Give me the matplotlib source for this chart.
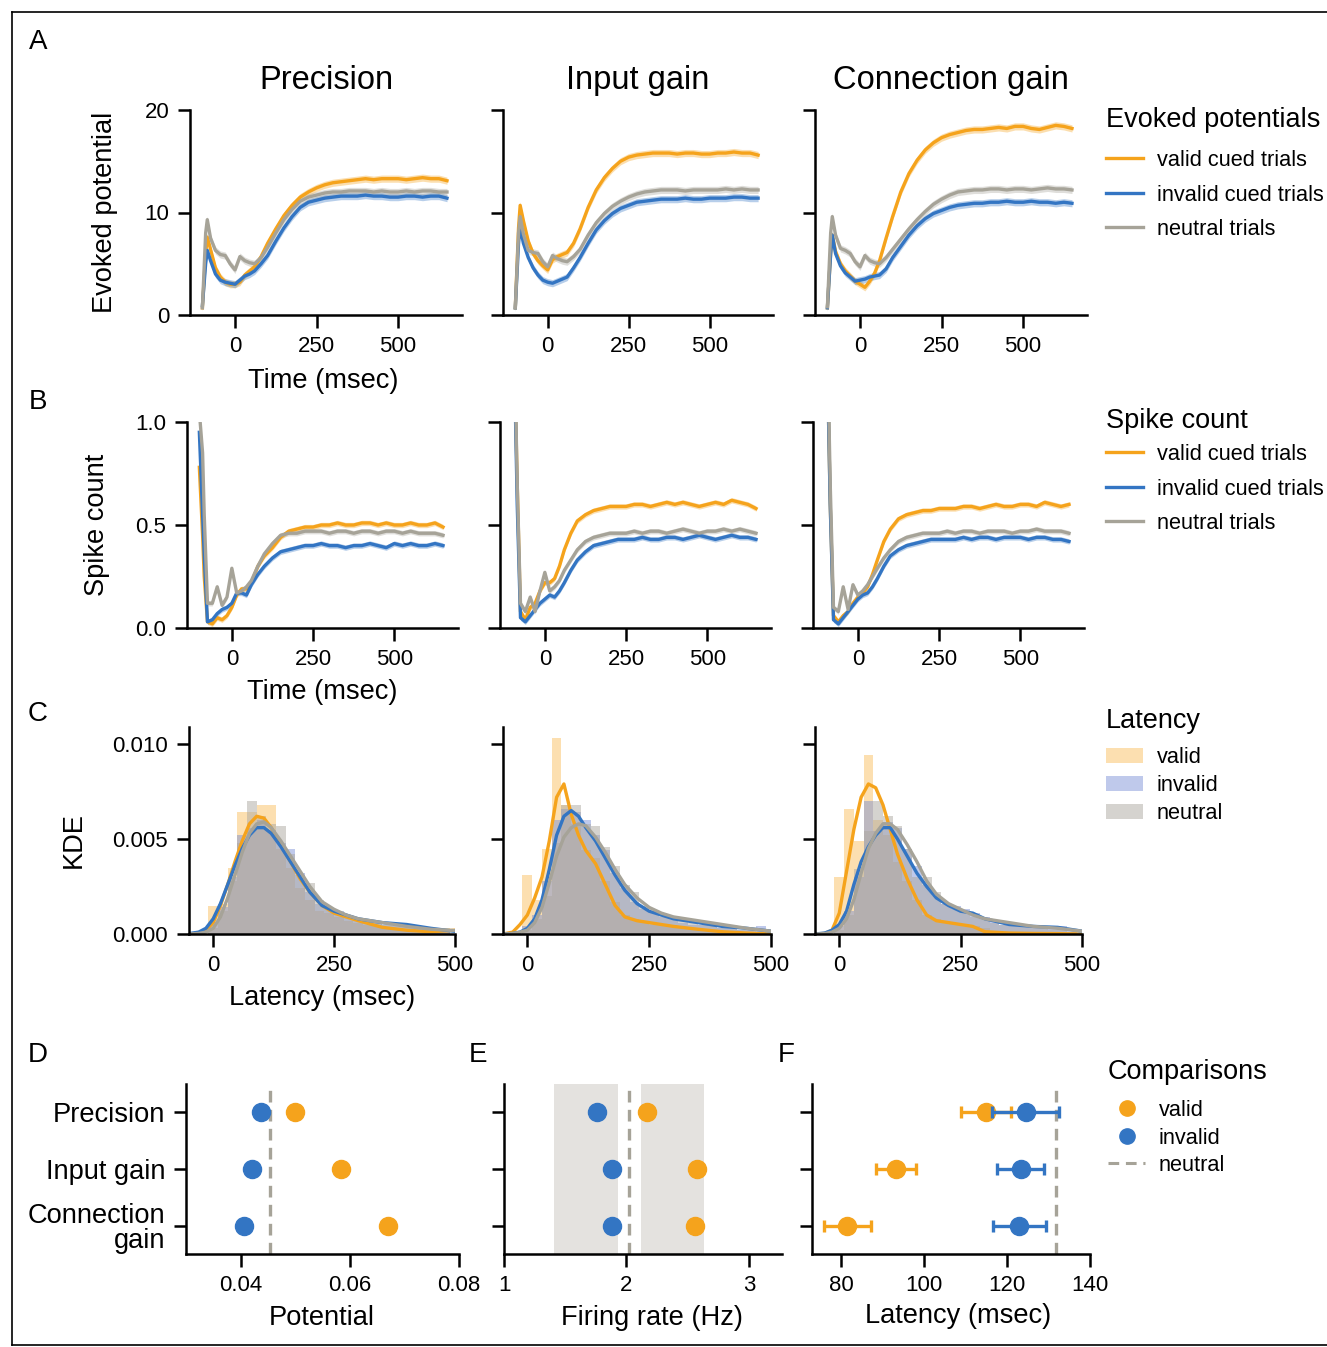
import numpy as np
import matplotlib
matplotlib.use("Agg")
import matplotlib.pyplot as plt
from matplotlib.lines import Line2D
from matplotlib.patches import Patch

plt.rcParams['font.family'] = ['Liberation Sans', 'DejaVu Sans']

W, H = 1327, 1347

# ---------------- data ----------------
models = ['Precision', 'Input gain', 'Connection gain']

# time axis (msec) for evoked potentials and spike counts
t_ms = [-100, -90, -85, -75, -60, -45, -30, -15, 0, 15, 30, 45, 60, 80, 100, 125, 150, 175,
        200, 225, 250, 275, 300, 325, 350, 375, 400, 425, 450, 475, 500, 525, 550, 575, 600, 625, 650]

# evoked potentials
ep_prec_valid = [0.7, 6.0, 7.6, 6.4, 4.6, 3.7, 3.2, 3.0, 3.0, 3.2, 3.9, 4.3, 4.7, 5.7, 7.0, 8.4, 9.7, 10.7,
                 11.5, 12.0, 12.4, 12.7, 12.9, 13.0, 13.1, 13.2, 13.3, 13.2, 13.3, 13.3, 13.3, 13.2, 13.3, 13.4, 13.3, 13.3, 13.1]
ep_prec_invalid = [0.9, 5.0, 6.3, 5.3, 4.0, 3.4, 3.2, 3.1, 3.0, 3.4, 3.8, 4.0, 4.3, 5.0, 5.8, 7.2, 8.5, 9.6,
                   10.5, 11.0, 11.2, 11.4, 11.5, 11.6, 11.6, 11.6, 11.7, 11.6, 11.6, 11.5, 11.5, 11.6, 11.6, 11.5, 11.6, 11.6, 11.4]
ep_prec_neutral = [0.7, 8.0, 9.3, 7.5, 6.3, 5.9, 5.8, 5.0, 4.4, 5.7, 5.3, 5.1, 5.0, 5.6, 6.6, 8.0, 9.3, 10.3,
                   11.1, 11.5, 11.7, 11.9, 12.0, 12.0, 12.1, 12.1, 12.1, 12.0, 12.1, 12.0, 12.0, 12.1, 12.0, 12.1, 12.1, 12.0, 12.0]
ep_input_valid = [0.7, 8.5, 10.7, 9.2, 7.2, 6.0, 5.3, 4.8, 4.4, 5.4, 5.7, 5.9, 6.1, 7.0, 8.4, 10.5, 12.2, 13.4,
                  14.3, 15.0, 15.4, 15.6, 15.7, 15.8, 15.8, 15.8, 15.7, 15.8, 15.8, 15.7, 15.7, 15.8, 15.8, 15.9, 15.8, 15.8, 15.6]
ep_input_invalid = [0.7, 7.0, 8.6, 7.0, 5.6, 4.6, 3.9, 3.4, 3.2, 3.1, 3.3, 3.5, 3.7, 4.6, 5.6, 7.0, 8.3, 9.2,
                    9.9, 10.4, 10.7, 11.0, 11.1, 11.2, 11.3, 11.3, 11.3, 11.4, 11.3, 11.3, 11.4, 11.4, 11.4, 11.5, 11.5, 11.4, 11.4]
ep_input_neutral = [0.7, 8.0, 9.6, 7.9, 6.3, 6.1, 6.0, 5.2, 4.7, 5.8, 5.5, 5.3, 5.2, 5.7, 6.4, 7.8, 9.0, 9.9,
                    10.6, 11.1, 11.5, 11.8, 12.0, 12.1, 12.2, 12.2, 12.2, 12.1, 12.2, 12.2, 12.2, 12.2, 12.3, 12.2, 12.3, 12.2, 12.2]
ep_conn_valid = [0.7, 6.0, 7.8, 6.2, 5.0, 4.3, 3.8, 3.3, 3.0, 2.7, 3.3, 4.1, 5.3, 7.5, 9.6, 12.0, 13.8, 15.1,
                 16.1, 16.8, 17.3, 17.6, 17.8, 18.0, 18.1, 18.1, 18.2, 18.3, 18.2, 18.4, 18.4, 18.2, 18.1, 18.3, 18.5, 18.4, 18.2]
ep_conn_invalid = [0.7, 6.0, 7.8, 6.0, 4.8, 4.1, 3.7, 3.3, 3.4, 3.5, 3.7, 3.8, 3.9, 4.5, 5.6, 6.7, 7.8, 8.7,
                   9.4, 9.9, 10.2, 10.5, 10.7, 10.8, 10.9, 10.9, 11.0, 11.0, 11.1, 11.0, 11.0, 11.1, 11.0, 11.0, 10.9, 11.0, 10.9]
ep_conn_neutral = [0.8, 8.0, 9.6, 7.8, 6.5, 6.3, 6.0, 5.2, 4.7, 5.8, 5.3, 5.1, 5.0, 5.6, 6.4, 7.4, 8.4, 9.3,
                   10.1, 10.8, 11.3, 11.7, 12.0, 12.1, 12.2, 12.2, 12.3, 12.3, 12.2, 12.3, 12.3, 12.2, 12.3, 12.4, 12.3, 12.3, 12.2]
ep_sem = 0.35

# spike counts
sc_prec_valid = [0.78, 0.45, 0.25, 0.03, 0.02, 0.05, 0.04, 0.06, 0.10, 0.16, 0.19, 0.19, 0.22, 0.30, 0.35, 0.39, 0.44, 0.47,
                 0.48, 0.49, 0.49, 0.50, 0.50, 0.51, 0.50, 0.50, 0.51, 0.51, 0.50, 0.51, 0.50, 0.50, 0.51, 0.50, 0.50, 0.51, 0.49]
sc_prec_invalid = [0.95, 0.55, 0.35, 0.03, 0.04, 0.07, 0.09, 0.10, 0.12, 0.17, 0.17, 0.16, 0.21, 0.26, 0.30, 0.34, 0.37, 0.38,
                   0.39, 0.40, 0.40, 0.41, 0.40, 0.40, 0.39, 0.40, 0.40, 0.41, 0.40, 0.39, 0.41, 0.40, 0.41, 0.40, 0.40, 0.41, 0.40]
sc_prec_neutral = [1.05, 0.85, 0.55, 0.12, 0.12, 0.20, 0.11, 0.15, 0.29, 0.17, 0.18, 0.20, 0.23, 0.30, 0.36, 0.41, 0.45, 0.46,
                   0.46, 0.47, 0.47, 0.47, 0.46, 0.47, 0.47, 0.46, 0.47, 0.47, 0.46, 0.47, 0.47, 0.46, 0.47, 0.46, 0.46, 0.46, 0.45]
sc_input_valid = [1.3, 1.05, 0.7, 0.08, 0.04, 0.10, 0.12, 0.18, 0.22, 0.22, 0.24, 0.30, 0.38, 0.46, 0.52, 0.55, 0.57, 0.58,
                  0.59, 0.59, 0.59, 0.60, 0.60, 0.59, 0.60, 0.61, 0.60, 0.61, 0.60, 0.59, 0.60, 0.61, 0.60, 0.62, 0.61, 0.60, 0.58]
sc_input_invalid = [1.3, 1.0, 0.6, 0.05, 0.03, 0.06, 0.09, 0.12, 0.14, 0.16, 0.15, 0.18, 0.22, 0.28, 0.33, 0.37, 0.40, 0.41,
                    0.42, 0.43, 0.43, 0.43, 0.44, 0.43, 0.43, 0.44, 0.44, 0.43, 0.44, 0.45, 0.44, 0.43, 0.44, 0.45, 0.44, 0.44, 0.43]
sc_input_neutral = [1.4, 1.1, 0.7, 0.12, 0.08, 0.15, 0.08, 0.18, 0.27, 0.18, 0.20, 0.23, 0.28, 0.33, 0.38, 0.42, 0.44, 0.45,
                    0.46, 0.46, 0.46, 0.47, 0.46, 0.47, 0.47, 0.46, 0.47, 0.48, 0.47, 0.46, 0.47, 0.47, 0.48, 0.47, 0.48, 0.47, 0.46]
sc_conn_valid = [1.3, 1.0, 0.6, 0.06, 0.03, 0.06, 0.08, 0.12, 0.15, 0.17, 0.20, 0.26, 0.33, 0.42, 0.48, 0.53, 0.55, 0.56,
                 0.57, 0.57, 0.58, 0.58, 0.58, 0.59, 0.59, 0.58, 0.59, 0.60, 0.59, 0.59, 0.60, 0.60, 0.59, 0.61, 0.60, 0.59, 0.60]
sc_conn_invalid = [1.3, 1.0, 0.6, 0.04, 0.02, 0.05, 0.08, 0.11, 0.14, 0.16, 0.17, 0.20, 0.24, 0.30, 0.35, 0.38, 0.40, 0.41,
                   0.42, 0.43, 0.43, 0.43, 0.43, 0.44, 0.43, 0.44, 0.44, 0.43, 0.44, 0.44, 0.44, 0.43, 0.44, 0.44, 0.43, 0.43, 0.42]
sc_conn_neutral = [1.4, 1.1, 0.7, 0.10, 0.08, 0.20, 0.09, 0.21, 0.16, 0.18, 0.21, 0.25, 0.29, 0.34, 0.38, 0.42, 0.44, 0.45,
                   0.46, 0.46, 0.46, 0.47, 0.46, 0.47, 0.47, 0.46, 0.47, 0.47, 0.47, 0.46, 0.47, 0.47, 0.48, 0.47, 0.47, 0.47, 0.46]
sc_sem = 0.013

# latency histograms (bin edges in msec, densities per bin)
lat_edges = [-10, 10, 30, 50, 70, 90, 110, 130, 150, 170, 190, 210, 230, 250, 270, 290, 310, 330,
             350, 370, 390, 410, 430, 450, 470, 490]
hist_prec_valid = [0.0015, 0.0016, 0.0035, 0.0064, 0.0064, 0.0068, 0.0068, 0.0045, 0.0035, 0.0024, 0.0018, 0.0012, 0.0011,
                   0.0009, 0.0007, 0.0006, 0.0005, 0.0004, 0.0003, 0.0003, 0.0002, 0.0002, 0.0001, 0.0001, 0.0003]
hist_prec_invalid = [0.0006, 0.0014, 0.0030, 0.0052, 0.0056, 0.0060, 0.0055, 0.0048, 0.0045, 0.0032, 0.0022, 0.0016, 0.0013,
                     0.0012, 0.0010, 0.0008, 0.0006, 0.0006, 0.0005, 0.0005, 0.0004, 0.0004, 0.0003, 0.0002, 0.0001]
hist_prec_neutral = [0.0003, 0.0012, 0.0028, 0.0048, 0.0070, 0.0062, 0.0058, 0.0057, 0.0042, 0.0031, 0.0027, 0.0018, 0.0013,
                     0.0011, 0.0009, 0.0008, 0.0007, 0.0006, 0.0005, 0.0004, 0.0004, 0.0003, 0.0002, 0.0002, 0.0001]
hist_input_valid = [0.0031, 0.0018, 0.0045, 0.0103, 0.0068, 0.0058, 0.0044, 0.0040, 0.0028, 0.0017, 0.0010, 0.0008, 0.0007,
                    0.0005, 0.0005, 0.0004, 0.0003, 0.0003, 0.0002, 0.0002, 0.0001, 0.0001, 0.0001, 0.0000, 0.0000]
hist_input_invalid = [0.0004, 0.0010, 0.0028, 0.0060, 0.0066, 0.0064, 0.0060, 0.0052, 0.0044, 0.0032, 0.0024, 0.0017, 0.0013,
                      0.0011, 0.0009, 0.0008, 0.0006, 0.0005, 0.0005, 0.0004, 0.0003, 0.0003, 0.0002, 0.0003, 0.0004]
hist_input_neutral = [0.0002, 0.0008, 0.0020, 0.0048, 0.0068, 0.0068, 0.0058, 0.0057, 0.0046, 0.0036, 0.0026, 0.0022, 0.0015,
                      0.0012, 0.0010, 0.0008, 0.0007, 0.0006, 0.0005, 0.0004, 0.0003, 0.0003, 0.0002, 0.0002, 0.0001]
hist_conn_valid = [0.0030, 0.0066, 0.0049, 0.0094, 0.0060, 0.0052, 0.0038, 0.0028, 0.0018, 0.0010, 0.0008, 0.0006, 0.0006,
                   0.0005, 0.0004, 0.0003, 0.0001, 0.0001, 0.0001, 0.0000, 0.0000, 0.0000, 0.0000, 0.0000, 0.0000]
hist_conn_invalid = [0.0004, 0.0012, 0.0030, 0.0070, 0.0054, 0.0059, 0.0056, 0.0045, 0.0036, 0.0026, 0.0020, 0.0016, 0.0015,
                     0.0013, 0.0011, 0.0009, 0.0007, 0.0005, 0.0004, 0.0004, 0.0004, 0.0003, 0.0003, 0.0004, 0.0002]
hist_conn_neutral = [0.0002, 0.0010, 0.0034, 0.0054, 0.0070, 0.0062, 0.0057, 0.0045, 0.0030, 0.0030, 0.0022, 0.0016, 0.0013,
                     0.0011, 0.0009, 0.0008, 0.0006, 0.0005, 0.0005, 0.0004, 0.0003, 0.0003, 0.0002, 0.0002, 0.0001]

# latency KDE curves
kde_ms = [-50, -30, -15, 0, 15, 30, 45, 60, 75, 90, 105, 120, 140, 160, 180, 200, 225, 250, 275, 300, 350, 400, 450, 500]
kde_prec_valid = [0.0, 0.00005, 0.0002, 0.0006, 0.0015, 0.0026, 0.0038, 0.0049, 0.0058, 0.0062, 0.0061, 0.0056, 0.0047,
                  0.0038, 0.0029, 0.0022, 0.0015, 0.0011, 0.0009, 0.0007, 0.00035, 0.0002, 0.00012, 0.0002]
kde_prec_invalid = [0.00002, 0.0001, 0.0003, 0.0008, 0.0016, 0.0026, 0.0036, 0.0045, 0.0052, 0.0056, 0.0056, 0.0053, 0.0046,
                    0.0038, 0.0030, 0.0022, 0.0015, 0.0012, 0.0010, 0.0008, 0.0006, 0.0005, 0.0003, 0.00014]
kde_prec_neutral = [0.0, 0.00003, 0.0001, 0.0003, 0.0009, 0.0019, 0.0031, 0.0043, 0.0053, 0.0058, 0.0059, 0.0056, 0.0049,
                    0.0041, 0.0033, 0.0025, 0.0017, 0.0013, 0.0010, 0.0008, 0.0006, 0.0004, 0.00025, 0.00018]
kde_input_valid = [0.0, 0.0001, 0.0005, 0.0010, 0.0019, 0.0030, 0.0049, 0.0072, 0.0079, 0.0063, 0.0052, 0.0044, 0.0037,
                   0.0026, 0.0015, 0.0009, 0.0007, 0.0006, 0.0005, 0.0004, 0.00025, 0.00012, 0.00005, 0.0]
kde_input_invalid = [0.0, 0.00003, 0.0001, 0.0003, 0.0008, 0.0018, 0.0034, 0.0052, 0.0062, 0.0065, 0.0062, 0.0056, 0.0049,
                     0.0040, 0.0031, 0.0023, 0.0016, 0.0012, 0.0010, 0.0008, 0.0006, 0.0004, 0.0003, 0.00015]
kde_input_neutral = [0.0, 0.00002, 0.0001, 0.0002, 0.0006, 0.0014, 0.0027, 0.0041, 0.0051, 0.0056, 0.0058, 0.0057, 0.0051,
                     0.0043, 0.0034, 0.0026, 0.0019, 0.0014, 0.0011, 0.0009, 0.0007, 0.0005, 0.0003, 0.00015]
kde_conn_valid = [0.0, 0.00003, 0.0002, 0.0011, 0.0033, 0.0055, 0.0072, 0.0079, 0.0077, 0.0068, 0.0055, 0.0042, 0.0029,
                  0.0018, 0.0010, 0.0007, 0.0006, 0.0005, 0.0004, 0.00012, 0.00005, 0.00003, 0.00002, 0.0]
kde_conn_invalid = [0.0, 0.00005, 0.0002, 0.0005, 0.0012, 0.0026, 0.0038, 0.0046, 0.0052, 0.0056, 0.0056, 0.0050, 0.0041,
                    0.0032, 0.0025, 0.0019, 0.0015, 0.0012, 0.0011, 0.0008, 0.0005, 0.0004, 0.00035, 0.00015]
kde_conn_neutral = [0.0, 0.00002, 0.0001, 0.0003, 0.0008, 0.0018, 0.0032, 0.0045, 0.0053, 0.0058, 0.0058, 0.0055, 0.0047,
                    0.0038, 0.0028, 0.0021, 0.0016, 0.0013, 0.0010, 0.0008, 0.0006, 0.0004, 0.0003, 0.00015]

# comparisons (rows: Precision, Input gain, Connection gain)
cmp_labels = ['Precision', 'Input gain', 'Connection\ngain']
pot_valid = [0.0500, 0.0583, 0.0670]
pot_valid_err = [0.0007, 0.0007, 0.0008]
pot_invalid = [0.0438, 0.0420, 0.0407]
pot_invalid_err = [0.0003, 0.0003, 0.0003]
pot_neutral = 0.0453

rate_valid = [2.17, 2.58, 2.56]
rate_valid_err = [0.02, 0.02, 0.03]
rate_invalid = [1.76, 1.88, 1.88]
rate_invalid_err = [0.02, 0.02, 0.02]
rate_neutral = 2.02
rate_spans = [(1.41, 1.93), (2.12, 2.63)]

lat_valid = [115.0, 93.3, 81.5]
lat_valid_err = [6.0, 4.8, 5.7]
lat_invalid = [124.5, 123.3, 123.0]
lat_invalid_err = [8.0, 5.6, 6.3]
lat_neutral = 131.7

# ---------------- style ----------------
ORANGE = '#F5A31C'
BLUE = '#3375C3'
GREY = '#A6A398'
H_ORANGE = '#F9B850'
H_BLUE = '#7189D3'
H_GREY = '#ACA8A1'
line_cols = [ORANGE, BLUE, GREY]
hist_cols = [H_ORANGE, H_BLUE, H_GREY]
hist_alpha = [0.45, 0.45, 0.5]

TICK_FS = 16
LABEL_FS = 19.6
TITLE_FS = 23.5
LEG_FS = 15.7
LEG_TITLE_FS = 19.5

fig = plt.figure(figsize=(W / 100, H / 100), dpi=100)


def box(l, t, r, b):
    return [l / W, 1 - b / H, (r - l) / W, (b - t) / H]


def style(ax):
    for s in ['top', 'right']:
        ax.spines[s].set_visible(False)
    for s in ['left', 'bottom']:
        ax.spines[s].set_linewidth(1.8)
    ax.tick_params(width=1.8, length=9, pad=6, labelsize=TICK_FS)


def ftext(x, y, s, **kw):
    fig.text(x / W, 1 - y / H, s, **kw)


ep_sets = [[ep_prec_valid, ep_prec_invalid, ep_prec_neutral],
           [ep_input_valid, ep_input_invalid, ep_input_neutral],
           [ep_conn_valid, ep_conn_invalid, ep_conn_neutral]]
sc_sets = [[sc_prec_valid, sc_prec_invalid, sc_prec_neutral],
           [sc_input_valid, sc_input_invalid, sc_input_neutral],
           [sc_conn_valid, sc_conn_invalid, sc_conn_neutral]]
hist_sets = [[hist_prec_valid, hist_prec_invalid, hist_prec_neutral],
             [hist_input_valid, hist_input_invalid, hist_input_neutral],
             [hist_conn_valid, hist_conn_invalid, hist_conn_neutral]]
kde_sets = [[kde_prec_valid, kde_prec_invalid, kde_prec_neutral],
            [kde_input_valid, kde_input_invalid, kde_input_neutral],
            [kde_conn_valid, kde_conn_invalid, kde_conn_neutral]]

boxes_a = [(190, 110, 462, 315), (503, 110, 773, 315), (815, 110, 1087, 315)]
boxes_b = [(187, 422, 458, 628), (500, 422, 771, 628), (813, 422, 1084, 628)]
boxes_c = [(189, 727, 455, 934), (503, 727, 771, 934), (815, 727, 1082, 934)]

t = np.array(t_ms)

# ---- row A: evoked potentials
for i, bx in enumerate(boxes_a):
    ax = fig.add_axes(box(*bx))
    style(ax)
    for vals, c in zip(ep_sets[i], line_cols):
        v = np.array(vals)
        ax.fill_between(t, v - ep_sem, v + ep_sem, color=c, alpha=0.35, lw=0)
        ax.plot(t, v, color=c, lw=2.4)
    ax.set_xlim(-138, 696)
    ax.set_ylim(0, 20)
    ax.set_xticks([0, 250, 500])
    ax.set_yticks([0, 10, 20])
    if i > 0:
        ax.set_yticklabels([])
    ax.set_title(models[i], fontsize=TITLE_FS, pad=15)
    if i == 0:
        ax.set_ylabel('Evoked potential', fontsize=LABEL_FS)
        ax.yaxis.set_label_coords((118 - bx[0]) / (bx[2] - bx[0]), 0.5)
        ax.set_xlabel('Time (msec)', fontsize=LABEL_FS, va='center')
        ax.xaxis.set_label_coords(0.49, (bx[3] - 381) / (bx[3] - bx[1]))

# ---- row B: spike counts
for i, bx in enumerate(boxes_b):
    ax = fig.add_axes(box(*bx))
    style(ax)
    for vals, c in zip(sc_sets[i], line_cols):
        v = np.array(vals)
        ax.fill_between(t, v - sc_sem, v + sc_sem, color=c, alpha=0.35, lw=0)
        ax.plot(t, v, color=c, lw=2.4)
    ax.set_xlim(-138, 696)
    ax.set_ylim(0, 1)
    ax.set_xticks([0, 250, 500])
    ax.set_yticks([0, 0.5, 1.0])
    if i > 0:
        ax.set_yticklabels([])
    else:
        ax.set_yticklabels(['0.0', '0.5', '1.0'])
        ax.set_ylabel('Spike count', fontsize=LABEL_FS)
        ax.yaxis.set_label_coords((110 - bx[0]) / (bx[2] - bx[0]), 0.5)
        ax.set_xlabel('Time (msec)', fontsize=LABEL_FS, va='center')
        ax.xaxis.set_label_coords(0.5, (bx[3] - 692) / (bx[3] - bx[1]))

# ---- row C: latency distributions
for i, bx in enumerate(boxes_c):
    ax = fig.add_axes(box(*bx))
    style(ax)
    for vals, c, a in zip(hist_sets[i], hist_cols, hist_alpha):
        ax.stairs(vals, lat_edges, fill=True, color=c, alpha=a, lw=0)
    for vals, c in zip(kde_sets[i], line_cols):
        ax.plot(kde_ms, vals, color=c, lw=2.4)
    ax.set_xlim(-50, 500)
    ax.set_ylim(0, 0.0109)
    ax.set_xticks([0, 250, 500])
    ax.set_yticks([0, 0.005, 0.010])
    if i > 0:
        ax.set_yticklabels([])
    else:
        ax.set_yticklabels(['0.000', '0.005', '0.010'])
        ax.set_ylabel('KDE', fontsize=LABEL_FS)
        ax.yaxis.set_label_coords((87 - bx[0]) / (bx[2] - bx[0]), (bx[3] - 840) / (bx[3] - bx[1]))
        ax.set_xlabel('Latency (msec)', fontsize=LABEL_FS, va='center')
        ax.xaxis.set_label_coords((322 - bx[0]) / (bx[2] - bx[0]), (bx[3] - 998) / (bx[3] - bx[1]))

# ---- row D/E/F: comparisons
ypos = [0, 1, 2]
cmp_specs = [
    ((186, 1084, 459, 1254), pot_valid, pot_valid_err, pot_invalid, pot_invalid_err, pot_neutral,
     (0.03, 0.08), [0.04, 0.06, 0.08], ['0.04', '0.06', '0.08'], 'Potential', 322, 1318),
    ((504, 1084, 782, 1254), rate_valid, rate_valid_err, rate_invalid, rate_invalid_err, rate_neutral,
     (1, 3.27), [1, 2, 3], ['1', '2', '3'], 'Firing rate (Hz)', 652, 1318),
    ((812, 1084, 1090, 1254), lat_valid, lat_valid_err, lat_invalid, lat_invalid_err, lat_neutral,
     (73, 140), [80, 100, 120, 140], ['80', '100', '120', '140'], 'Latency (msec)', 958, 1316),
]
for j, (bx, vv, ve, iv, ie, nv, xl, xt, xtl, xlab, lx, ly) in enumerate(cmp_specs):
    ax = fig.add_axes(box(*bx))
    style(ax)
    if j == 1:
        for a0, a1 in rate_spans:
            ax.axvspan(a0, a1, color='#E4E2DF', lw=0, zorder=0)
    ax.axvline(nv, color=GREY, lw=2.4, ls=(0, (3.5, 2.2)), zorder=1)
    ax.errorbar(vv, ypos, xerr=ve, fmt='o', color=ORANGE, ms=13, elinewidth=2.4,
                capsize=4, capthick=2.4, zorder=3)
    ax.errorbar(iv, ypos, xerr=ie, fmt='o', color=BLUE, ms=13, elinewidth=2.4,
                capsize=4, capthick=2.4, zorder=4)
    ax.set_xlim(*xl)
    ax.set_ylim(2.5, -0.5)
    ax.set_xticks(xt)
    ax.set_xticklabels(xtl)
    ax.set_yticks(ypos)
    if j == 0:
        ax.set_yticklabels(cmp_labels, fontsize=LABEL_FS, linespacing=0.95)
    else:
        ax.set_yticklabels([])
    ax.set_xlabel(xlab, fontsize=LABEL_FS, va='center')
    ax.xaxis.set_label_coords((lx - bx[0]) / (bx[2] - bx[0]), (bx[3] - ly) / (bx[3] - bx[1]))

# ---- legends (title drawn as separate text for exact spacing)
line_handles = [Line2D([], [], color=c, lw=2.4) for c in line_cols]
trial_labels = ['valid cued trials', 'invalid cued trials', 'neutral trials']
patch_handles = [Patch(color=c, alpha=a, lw=0) for c, a in zip(hist_cols, hist_alpha)]
cmp_handles = [Line2D([], [], color=ORANGE, marker='o', ms=11, ls='none'),
               Line2D([], [], color=BLUE, marker='o', ms=11, ls='none'),
               Line2D([], [], color=GREY, lw=2.2, ls=(0, (3.5, 2.2)))]

legend_specs = [
    ('Evoked potentials', line_handles, trial_labels, 1106, 120, 150, 0.62),
    ('Spike count', line_handles, trial_labels, 1106, 421, 444, 0.62),
    ('Latency', patch_handles, ['valid', 'invalid', 'neutral'], 1106, 721, 747, 0.32),
    ('Comparisons', cmp_handles, ['valid', 'invalid', 'neutral'], 1108, 1072, 1100, 0.30),
]
for title, hands, labs, lx, ty, top, ls in legend_specs:
    ftext(lx, ty, title, fontsize=LEG_TITLE_FS, ha='left', va='center')
    fig.legend(hands, labs, loc='upper left', bbox_to_anchor=(lx / W, 1 - top / H), frameon=False,
               fontsize=LEG_FS, handlelength=1.7, handletextpad=0.62, labelspacing=ls,
               borderpad=0, borderaxespad=0)

# ---- panel letters and frame (left, top, bottom edges)
for letter, (x, y) in zip('ABCDEF', [(38, 42), (38, 402), (38, 714), (38, 1055), (478, 1055), (786, 1055)]):
    ftext(x, y, letter, fontsize=20, ha='center', va='center')

for xs, ys in [([12, 12], [12, 1345]), ([12, W], [12, 12]), ([12, W], [1345, 1345])]:
    fig.add_artist(Line2D([x / W for x in xs], [1 - y / H for y in ys], transform=fig.transFigure,
                          color='black', lw=1.2))

fig.savefig('out.png', dpi=100)
